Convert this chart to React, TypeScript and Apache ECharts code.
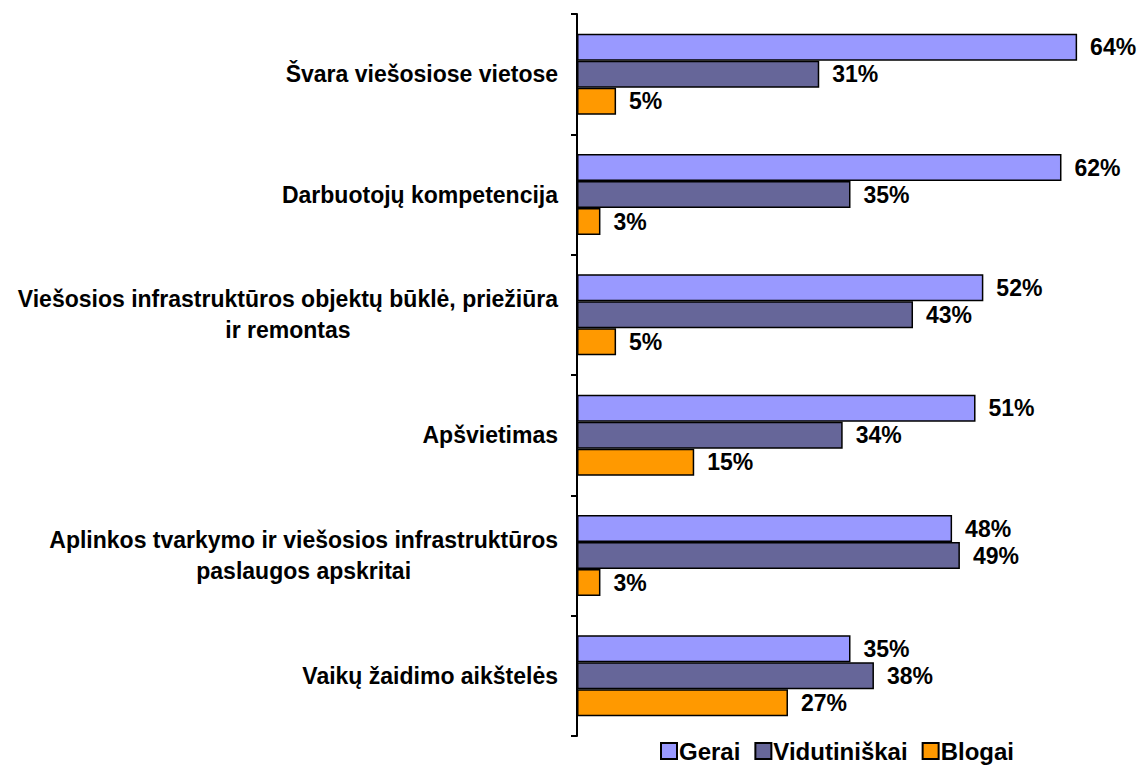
import React, { useEffect, useRef } from "react";
import * as echarts from "echarts";

const categories = [
  "Švara viešosiose vietose",
  "Darbuotojų kompetencija",
  "Viešosios infrastruktūros objektų būklė, priežiūra\nir remontas",
  "Apšvietimas",
  "Aplinkos tvarkymo ir viešosios infrastruktūros\npaslaugos apskritai",
  "Vaikų žaidimo aikštelės",
];
const seriesNames = ["Gerai", "Vidutiniškai", "Blogai"];
const gerai = [64, 62, 52, 51, 48, 35];
const vidutiniskai = [31, 35, 43, 34, 49, 38];
const blogai = [5, 3, 5, 15, 3, 27];
const colors = ["#9999FF", "#666699", "#FF9900"];

const FONT = "Arial, 'Liberation Sans', sans-serif";

export default function App() {
  const ref = useRef<HTMLDivElement>(null);
  useEffect(() => {
    if (!ref.current) return;
    const chart = echarts.init(ref.current, null, { renderer: "svg" });
    const datasets = [gerai, vidutiniskai, blogai];
    chart.setOption({
      animation: false,
      grid: { left: 577, top: 14, bottom: 30, right: 16, containLabel: false },
      legend: {
        data: seriesNames,
        left: 660,
        top: 739,
        padding: 0,
        itemWidth: 16,
        itemHeight: 16,
        itemGap: 14,
        icon: "rect",
        textStyle: { fontFamily: FONT, fontWeight: "bold", fontSize: 24, color: "#000", padding: [0, 0, 0, -3] },
      },
      xAxis: {
        type: "value",
        min: 0,
        max: 70,
        show: false,
      },
      yAxis: {
        type: "category",
        inverse: true,
        data: categories,
        axisLine: { show: true, lineStyle: { color: "#000", width: 2 } },
        axisTick: { show: true, inside: false, length: 6, lineStyle: { color: "#000", width: 2 } },
        axisLabel: {
          margin: 19,
          color: "#000",
          formatter: (v: string) =>
            v
              .split("\n")
              .map((l) => `{c|${l}}`)
              .join("\n"),
          rich: {
            c: {
              align: "center",
              fontFamily: FONT,
              fontWeight: "bold",
              fontSize: 23,
              lineHeight: 31,
              color: "#000",
            },
          },
        },
        splitLine: { show: false },
      },
      series: seriesNames.map((name, i) => ({
        name,
        type: "bar",
        data: datasets[i],
        barWidth: 27,
        barGap: "0%",
        barCategoryGap: "32%",
        itemStyle: { color: colors[i], borderColor: "#000", borderWidth: 1.5 },
        label: {
          show: true,
          position: "right",
          distance: 13,
          formatter: "{c}%",
          fontFamily: FONT,
          fontWeight: "bold",
          fontSize: 23,
          color: "#000",
        },
      })),
    });
    return () => chart.dispose();
  }, []);
  return (
    <div
      ref={ref}
      style={{ position: "fixed", left: 0, top: 0, width: 1140, height: 766, background: "#fff" }}
    />
  );
}
